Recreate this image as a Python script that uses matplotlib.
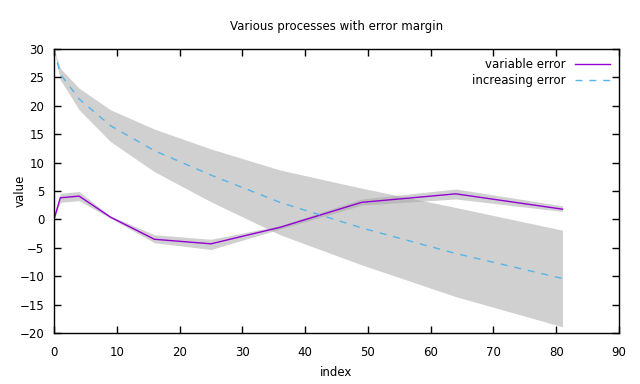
import matplotlib
matplotlib.use("Agg")
import matplotlib.pyplot as plt
from matplotlib.ticker import MultipleLocator

# index values
x = [0, 1, 4, 9, 16, 25, 36, 49, 64, 81]

# variable error series
var_y = [0.0, 3.8, 4.1, 0.4, -3.5, -4.3, -1.4, 3.0, 4.5, 1.8]
var_lo = [0.0, 3.0, 3.3, 0.2, -4.1, -5.3, -1.7, 2.5, 3.6, 1.4]
var_hi = [0.0, 4.6, 4.9, 0.6, -2.7, -3.5, -1.1, 3.6, 5.35, 2.4]

# increasing error series
inc_y = [30.0, 25.6, 21.2, 16.5, 12.1, 7.8, 3.0, -1.5, -6.0, -10.4]
inc_lo = [30.0, 24.6, 19.3, 13.7, 8.4, 3.1, -2.7, -8.0, -13.6, -18.9]
inc_hi = [30.0, 26.6, 23.1, 19.3, 15.9, 12.4, 8.7, 5.5, 2.1, -1.9]

title = "Various processes with error margin"
xlabel = "index"
ylabel = "value"
labels = ["variable error", "increasing error"]

plt.rcParams['font.family'] = ['DejaVu Sans']
fs = 8.5
plt.rcParams['font.size'] = fs

fig = plt.figure(figsize=(6.4, 3.84), dpi=100)
ax = fig.add_axes([54/640, 1-333/384, (619-54)/640, (333-49)/384])

band_kw = dict(color='#a7a7a7', alpha=0.53, linewidth=0)
ax.fill_between(x, inc_lo, inc_hi, **band_kw)
ax.fill_between(x, var_lo, var_hi, **band_kw)

ax.plot(x, var_y, color='#9400D3', lw=1.0, label=labels[0])
ax.plot(x, inc_y, color='#56B4E9', lw=1.0, dashes=(5, 5), label=labels[1])

ax.set_xlim(0, 90)
ax.set_ylim(-20, 30)
ax.xaxis.set_major_locator(MultipleLocator(10))
ax.yaxis.set_major_locator(MultipleLocator(5))
ax.tick_params(direction='in', length=5, width=1, top=True, right=True,
               labelsize=fs, colors='black')
ax.tick_params(axis='x', pad=9)
ax.tick_params(axis='y', pad=7)
for s in ax.spines.values():
    s.set_linewidth(1)

ax.set_title(title, fontsize=fs, pad=14)
ax.set_xlabel(xlabel, fontsize=fs)
ax.set_ylabel(ylabel, fontsize=fs)
ax.xaxis.set_label_coords(0.5, -(372 - 333) / 284, transform=ax.transAxes)
ax.yaxis.set_label_coords(-(54 - 20) / 565, 0.5, transform=ax.transAxes)
ax.xaxis.label.set_va('center')
ax.yaxis.label.set_va('center')

leg = ax.legend(loc='upper right', frameon=False, markerfirst=False,
                handlelength=3.0, fontsize=fs, borderaxespad=0.35,
                labelspacing=0.3, handletextpad=0.8)
for t in leg.get_texts():
    t.set_ha('right')

fig.savefig('out.png', dpi=100)
